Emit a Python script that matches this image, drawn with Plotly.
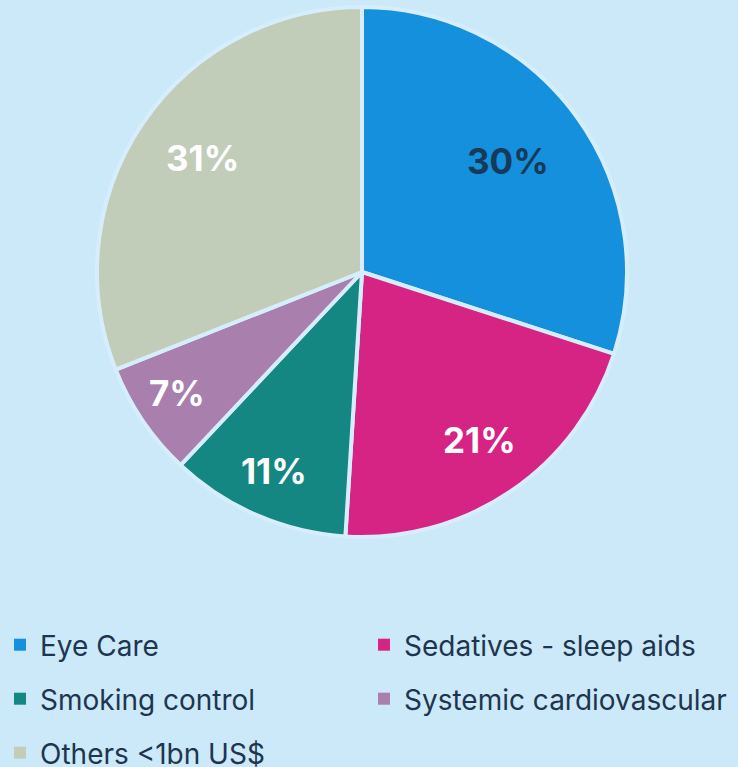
import math
import plotly.graph_objects as go

labels = ["Eye Care", "Sedatives - sleep aids", "Smoking control", "Systemic cardiovascular", "Others <1bn US$"]
values = [30, 21, 11, 7, 31]
colors = ["#1490dc", "#d62484", "#148782", "#a87fad", "#c1cdb9"]
text_colors = ["#173a5a", "#ffffff", "#ffffff", "#ffffff", "#ffffff"]
label_radius = [0.68, 0.79, 0.84, 0.845, 0.73]   # style: radial position of the % labels
legend_rows = ["legend", "legend", "legend2", "legend2", "legend3"]

W, H = 738, 767
BG = "#cce9f9"
FONT = "Inter"

# pie box in pixels (layout), converted to paper fractions
px_left, px_right, px_top, px_bottom = 97, 627, 7, 537
dom_x = [px_left / W, px_right / W]
dom_y = [1 - px_bottom / H, 1 - px_top / H]
cx = (px_left + px_right) / 2
cy = (px_top + px_bottom) / 2
R = (px_right - px_left) / 2

fig = go.Figure()
fig.add_trace(go.Pie(
    labels=labels, values=values, sort=False, direction="clockwise", rotation=0,
    marker=dict(colors=colors, line=dict(color="#d6eefb", width=4)),
    textinfo="none", showlegend=False, hoverinfo="label+percent",
    domain=dict(x=dom_x, y=dom_y),
))

total = sum(values)
cum = 0
annotations = []
for v, tc, fr in zip(values, text_colors, label_radius):
    mid = (cum + v / 2) / total * 2 * math.pi
    cum += v
    x = cx + R * fr * math.sin(mid)
    y = cy - R * fr * math.cos(mid)
    annotations.append(dict(
        x=x / W, y=1 - y / H, xref="paper", yref="paper",
        text=f"<b>{round(v / total * 100)}%</b>", showarrow=False,
        font=dict(family=FONT, size=35, color=tc),
        xanchor="center", yanchor="middle", yshift=5,
    ))

for lab, col, lg in zip(labels, colors, legend_rows):
    fig.add_trace(go.Scatter(
        x=[None], y=[None], mode="markers", name=lab,
        marker=dict(symbol="square", size=12, color=col),
        legend=lg, showlegend=True, hoverinfo="skip",
    ))

legend_common = dict(orientation="h", x=0, xanchor="left", yanchor="middle",
                     entrywidth=319, entrywidthmode="pixels",
                     font=dict(family=FONT, size=28, color="#1e3550"),
                     bgcolor="rgba(0,0,0,0)", borderwidth=0)
fig.update_layout(
    paper_bgcolor=BG, plot_bgcolor=BG,
    width=W, height=H,
    margin=dict(l=0, r=0, t=0, b=0, autoexpand=False),
    xaxis=dict(visible=False), yaxis=dict(visible=False),
    annotations=annotations,
    legend=dict(y=1 - 645 / H, **legend_common),
    legend2=dict(y=1 - 699 / H, **legend_common),
    legend3=dict(y=1 - 753 / H, **legend_common),
)

fig.write_html("out.html")
